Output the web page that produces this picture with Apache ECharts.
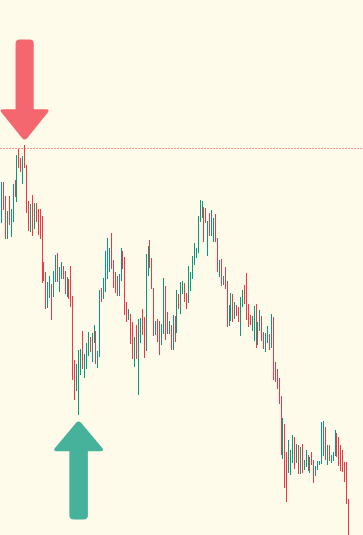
<!DOCTYPE html>
<html>
<head>
<meta charset="utf-8">
<script src="https://cdn.jsdelivr.net/npm/echarts@6/dist/echarts.min.js"></script>
<style>
  html, body { margin: 0; padding: 0; background: #fffbeb; }
  #chart { width: 363px; height: 535px; }
</style>
</head>
<body>
<div id="chart"></div>
<script>
// ---- data (price units) ----
const opens = [
  377,418,404,361,404,363,378,420,398,451,
  442,416,452,435,399,368,405,371,397,391,
  391,384,338,328,292,302,316,303,318,347,
  308,321,334,329,303,321,334,304,240,209,
  185,225,269,222,231,244,263,238,257,269,
  232,243,312,301,308,321,328,367,340,328,
  324,304,319,349,343,298,280,286,278,233,
  275,205,257,291,283,249,324,360,342,312,
  265,281,279,255,266,314,288,266,275,250,
  284,267,306,286,306,317,307,297,309,321,
  335,342,347,378,382,393,392,344,387,364,
  358,386,362,323,341,315,333,319,274,279,
  306,281,295,293,264,293,315,327,296,285,
  269,259,296,255,269,284,268,248,257,266,
  252,283,238,231,222,204,141,176,148,127,
  125,137,163,137,155,126,156,130,133,145,
  127,148,140,124,130,135,136,144,173,135,
  155,137,139,144,167,163,155,150,138,138,
  101
];
const closes = [
  418,390,361,389,375,391,416,403,445,432,
  428,444,432,387,369,396,364,397,378,365,
  361,317,319,291,318,324,280,329,345,318,
  333,338,321,306,323,301,293,220,200,236,
  250,251,231,246,257,268,248,267,275,236,
  249,310,298,322,349,362,352,331,312,307,
  304,326,352,331,285,278,291,256,241,263,
  241,281,282,265,242,346,354,332,311,264,
  279,258,245,276,322,260,266,279,250,285,
  258,310,291,318,319,298,291,334,328,344,
  357,352,384,400,399,358,377,379,364,390,
  382,358,328,340,314,324,311,273,295,307,
  278,298,284,278,303,310,296,280,273,275,
  284,294,252,278,290,259,251,267,274,250,
  286,220,218,211,196,145,182,112,98,160,
  150,165,131,156,126,153,127,140,150,129,
  143,135,117,134,139,139,178,179,140,155,
  139,145,148,170,143,134,129,128,118,96,
  60
];
const lows = [
  377,390,361,361,375,363,378,403,398,432,
  428,416,432,387,369,368,364,371,378,365,
  361,317,319,291,292,302,280,303,318,318,
  308,321,321,306,303,301,293,220,200,209,
  185,225,231,222,231,244,248,238,257,236,
  232,243,298,301,308,321,328,331,312,307,
  304,304,319,331,285,278,280,256,241,233,
  241,205,257,265,242,249,324,332,311,264,
  265,258,245,255,266,260,266,266,250,250,
  258,267,291,286,306,298,291,297,309,321,
  335,342,347,378,382,358,377,344,364,364,
  358,358,328,323,314,315,311,273,274,279,
  278,281,284,278,264,293,296,280,273,275,
  269,259,252,255,269,259,251,248,257,250,
  252,220,218,211,196,145,141,112,98,127,
  125,137,131,137,126,126,127,130,133,129,
  127,135,117,124,130,135,136,144,140,135,
  139,137,139,144,143,134,129,128,118,96,
  60
];
const highs = [
  418,418,404,389,404,391,416,420,445,451,
  442,444,455,435,399,396,405,397,397,391,
  391,384,338,328,318,324,316,329,345,347,
  333,338,334,329,323,321,334,304,240,236,
  250,251,269,246,257,268,263,267,275,269,
  249,310,312,322,349,362,352,367,340,328,
  324,326,352,349,343,298,291,286,278,263,
  275,281,282,291,283,346,354,360,342,312,
  279,281,279,276,322,314,288,279,275,285,
  284,310,306,318,319,317,307,334,328,344,
  357,352,384,400,399,393,392,379,387,390,
  382,386,362,340,341,324,333,319,295,307,
  306,298,295,293,303,310,315,327,296,285,
  284,294,296,278,290,284,268,267,274,266,
  286,283,238,231,222,204,182,176,148,160,
  150,165,163,156,155,153,156,140,150,145,
  143,148,140,134,139,139,178,179,173,155,
  155,145,148,170,167,163,155,150,138,138,
  101
];
const slotCount = 188;
const categories = Array.from({ length: slotCount }, (_, i) => 'D' + (i + 1));
const buyIndex = 40;
const yMin = 65.5, yMax = 600.5;

// ---- styles ----
const UP = '#089981', DOWN = '#F23645';
const UP_ARROW = 'rgba(8,153,129,0.75)', DOWN_ARROW = 'rgba(242,54,69,0.75)';
const downArrow = 'path://M19.5 0L28.5 0Q32.5 0 32.5 4L32.5 69L44 69Q48 69 45.5 72.5L26.5 97.5Q24 100.5 21.5 97.5L2.5 72.5Q0 69 4 69L15.5 69L15.5 4Q15.5 0 19.5 0Z';
const upArrow = 'path://M19.5 100L28.5 100Q32.5 100 32.5 96L32.5 31L44 31Q48 31 45.5 27.5L26.5 2.5Q24 -0.5 21.5 2.5L2.5 27.5Q0 31 4 31L15.5 31L15.5 96Q15.5 100 19.5 100Z';

const candles = opens.map((o, i) => [i, o, closes[i], lows[i], highs[i]]);
let sellIndex = 0;
highs.forEach((h, i) => { if (h > highs[sellIndex]) sellIndex = i; });
const bodyMax = Math.max(...opens, ...closes);

function renderCandle(params, api) {
  const i = api.value(0);
  const top = api.coord([i, api.value(4)]);
  const bottom = api.coord([i, api.value(3)]);
  const rising = api.value(2) >= api.value(1);
  const x = Math.floor(top[0]);
  const y0 = Math.floor(top[1]);
  const y1 = Math.floor(bottom[1]);
  return {
    type: 'rect',
    shape: { x: x, y: y0, width: 1, height: Math.max(1, y1 - y0) },
    style: { fill: rising ? UP : DOWN }
  };
}

const chart = echarts.init(document.getElementById('chart'), null, { renderer: 'canvas' });
chart.setOption({
  animation: false,
  backgroundColor: '#fffbeb',
  grid: { left: 0.55, right: -1, top: 0, bottom: 0, containLabel: false },
  xAxis: { type: 'category', data: categories, show: false, boundaryGap: true },
  yAxis: { type: 'value', min: yMin, max: yMax, show: false, splitLine: { show: false } },
  series: [{
    type: 'custom',
    data: candles,
    encode: { x: 0, y: [1, 2, 3, 4] },
    renderItem: renderCandle,
    clip: true,
    markLine: {
      silent: true,
      symbol: 'none',
      label: { show: false },
      lineStyle: { color: DOWN, type: [1, 2], width: 1 },
      data: [{ yAxis: bodyMax }]
    },
    markPoint: {
      silent: true,
      label: { show: false },
      data: [
        { coord: [sellIndex, highs[sellIndex]], symbol: downArrow, symbolSize: [48, 100], symbolOffset: [0, -56], itemStyle: { color: DOWN_ARROW } },
        { coord: [buyIndex, lows[buyIndex]], symbol: upArrow, symbolSize: [49, 98], symbolOffset: [0, 55], itemStyle: { color: UP_ARROW } }
      ]
    }
  }]
});
</script>
</body>
</html>
